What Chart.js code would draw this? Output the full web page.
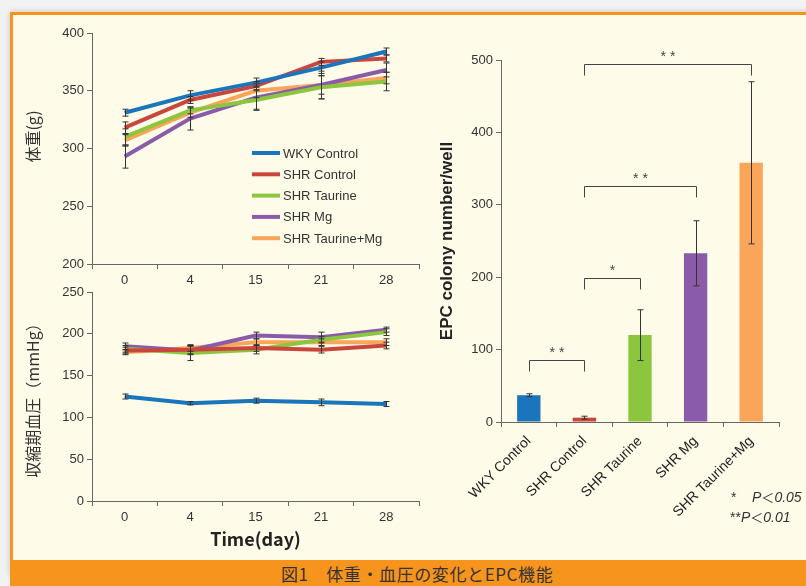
<!DOCTYPE html>
<html lang="ja">
<head>
<meta charset="utf-8">
<script src="https://cdn.jsdelivr.net/npm/chart.js@4.4.1/dist/chart.umd.min.js"></script>
<style>
  body { margin: 0; width: 806px; height: 586px; background: #f2f2f2; overflow: hidden; position: relative; }
  #frame { position: absolute; left: 10px; top: 12px; width: 820px; height: 560px; background: #fffbe9;
           border-top: 3px solid #f7941d; border-left: 3px solid #f7941d; box-shadow: 0 0 6px rgba(0,0,0,0.2); }
  #caption { position: absolute; left: 10px; top: 560px; width: 800px; height: 26px; background: #f7941d; }
  #caption span { position: absolute; left: 271px; top: 1px; font: 17px "Noto Sans CJK JP", sans-serif;
                  letter-spacing: 0.6px; color: #333; }
  canvas { position: absolute; }
  #weightChart { left: 0; top: 0; }
  #bpChart { left: 0; top: 272px; }
  #epcChart { left: 420px; top: 30px; }
  .pnote { position: absolute; font: 14px "Liberation Sans", Arial, sans-serif; color: #333; }
  .pnote i { font-style: italic; }
  .pnote b { font-weight: normal; font-family: "Noto Sans CJK JP", sans-serif; font-size: 13px; }
</style>
</head>
<body>
<div id="frame"></div>
<canvas id="weightChart" width="430" height="290"></canvas>
<canvas id="bpChart" width="430" height="288"></canvas>
<canvas id="epcChart" width="386" height="530"></canvas>
<div class="pnote" style="left:731px; top:487px;">*&nbsp;&nbsp;&nbsp;&nbsp;<i>P</i><b>＜</b><i>0.05</i></div>
<div class="pnote" style="left:730px; top:507px;">**<i>P</i><b>＜</b><i>0.01</i></div>
<div id="caption"><span>図1　体重・血圧の変化とEPC機能</span></div>
<script>
// --- data ---
const days = ['0', '4', '15', '21', '28'];
const groups = ['WKY Control', 'SHR Control', 'SHR Taurine', 'SHR Mg', 'SHR Taurine+Mg'];
const groupColors = ['#1b75bb', '#c9463d', '#8cc63f', '#8a5ba8', '#f9a55a'];

// body weight (g)
const weightWKY = [331, 346, 357, 370, 384];
const weightCtl = [318, 342, 354, 375, 378];
const weightTau = [310, 333, 342, 353, 358];
const weightMg = [293, 326, 344, 355, 368];
const weightTM = [307, 331, 350, 355, 361];
const weightErrWKY = [3, 4, 4, 5, 3];
const weightErrCtl = [5, 3, 4, 3, 3];
const weightErrTau = [7, 3, 9, 10, 8];
const weightErrMg = [10, 10, 10, 12, 6];
const weightErrTM = [5, 4, 6, 8, 5];

// systolic blood pressure (mmHg)
const bpWKY = [125, 117, 120, 118, 116];
const bpCtl = [180, 181, 183, 181, 186];
const bpTau = [182, 177, 181, 193, 202];
const bpMg = [185, 180, 198, 196, 205];
const bpTM = [178, 183, 190, 190, 190];
const bpErrWKY = [3, 2, 3, 4, 3];
const bpErrCtl = [4, 5, 4, 4, 4];
const bpErrTau = [4, 9, 5, 4, 4];
const bpErrMg = [4, 5, 4, 6, 3];
const bpErrTM = [3, 4, 4, 4, 4];

// EPC colony number/well
const epcValues = [37, 6, 120, 233, 358];
const epcErr = [2, 2, 35, 45, 112];

// significance brackets
const sigFrom = [0, 1, 1, 1];
const sigTo = [1, 2, 3, 4];
const sigY = [85, 199, 326, 495];
const sigLabel = ['* *', '*', '* *', '* *'];

Chart.defaults.font.family = '"Liberation Sans", Arial, sans-serif';
Chart.defaults.color = '#333';
Chart.defaults.animation = false;

const axisColor = '#666';

// --- plugins ---
const errorBars = {
    id: 'errorBars',
    afterDatasetsDraw(chart) {
        const ctx = chart.ctx;
        const y = chart.scales.y;
        ctx.save();
        ctx.strokeStyle = '#333';
        ctx.lineWidth = 1;
        chart.data.datasets.forEach((ds, i) => {
            if (!ds.errorBars) return;
            const meta = chart.getDatasetMeta(i);
            meta.data.forEach((el, j) => {
                const v = ds.data[j], e = ds.errorBars[j];
                const x = Math.round(el.x) + 0.5;
                const top = y.getPixelForValue(v + e), bot = y.getPixelForValue(v - e);
                ctx.beginPath();
                ctx.moveTo(x, top); ctx.lineTo(x, bot);
                ctx.moveTo(x - 3, top); ctx.lineTo(x + 3, top);
                ctx.moveTo(x - 3, bot); ctx.lineTo(x + 3, bot);
                ctx.stroke();
            });
        });
        ctx.restore();
    }
};

const boxLegend = {
    id: 'boxLegend',
    afterDraw(chart) {
        const ctx = chart.ctx;
        ctx.save();
        ctx.font = '13px "Liberation Sans", Arial, sans-serif';
        ctx.textBaseline = 'middle';
        chart.data.datasets.forEach((ds, i) => {
            const yy = 153 + i * 21.3;
            ctx.strokeStyle = ds.borderColor;
            ctx.lineWidth = 4;
            ctx.beginPath();
            ctx.moveTo(252, yy); ctx.lineTo(280, yy);
            ctx.stroke();
            ctx.fillStyle = '#333';
            ctx.fillText(ds.label, 283, yy + 1);
        });
        ctx.restore();
    }
};

const brackets = {
    id: 'brackets',
    afterDraw(chart) {
        const ctx = chart.ctx;
        const x = chart.scales.x, y = chart.scales.y;
        ctx.save();
        ctx.strokeStyle = '#444';
        ctx.lineWidth = 1;
        ctx.fillStyle = '#444';
        ctx.font = '14px "Liberation Sans", Arial, sans-serif';
        ctx.textAlign = 'center';
        ctx.textBaseline = 'middle';
        sigFrom.forEach((f, k) => {
            const x1 = Math.round(x.getPixelForValue(f)) + 0.5;
            const x2 = Math.round(x.getPixelForValue(sigTo[k])) + 0.5;
            const yt = Math.round(y.getPixelForValue(sigY[k])) + 0.5;
            ctx.beginPath();
            ctx.moveTo(x1, yt + 11); ctx.lineTo(x1, yt); ctx.lineTo(x2, yt); ctx.lineTo(x2, yt + 11);
            ctx.stroke();
            ctx.fillText(sigLabel[k], (x1 + x2) / 2, yt - 7);
        });
        ctx.restore();
    }
};

// --- line charts ---
function lineSets(values, errs) {
    return values.map((vals, i) => ({
        label: groups[i],
        data: vals,
        errorBars: errs[i],
        borderColor: groupColors[i],
        backgroundColor: groupColors[i],
        borderWidth: 4,
        pointRadius: 0,
        tension: 0
    }));
}

function lineOptions(yMin, yMax, step, yTitle, xTitle, padTop, xHeight) {
    return {
        responsive: false,
        layout: { padding: { top: padTop, right: 11, left: 0, bottom: 0 } },
        plugins: { legend: { display: false }, tooltip: { enabled: false } },
        scales: {
            x: {
                type: 'category',
                offset: true,
                grid: { offset: true, drawOnChartArea: false, tickLength: 5, color: axisColor },
                border: { color: axisColor },
                ticks: { font: { size: 13 }, color: '#333', padding: 4 },
                title: {
                    display: !!xTitle, text: xTitle || '',
                    font: { size: 18, weight: 'bold', family: '"Noto Sans CJK JP", sans-serif' },
                    color: '#222', padding: { top: 0, bottom: 10 }
                },
                afterFit: s => { s.height = xHeight; }
            },
            y: {
                min: yMin, max: yMax,
                grid: { drawOnChartArea: false, tickLength: 5, color: axisColor },
                border: { color: axisColor },
                ticks: { stepSize: step, font: { size: 13 }, color: '#333', padding: 3 },
                title: {
                    display: true, text: yTitle,
                    font: { size: 16, family: '"Noto Sans CJK JP", sans-serif' },
                    color: '#333', padding: { top: 23, bottom: 0 }
                },
                afterFit: s => { s.width = 92; }
            }
        }
    };
}

new Chart(document.getElementById('weightChart'), {
    type: 'line',
    data: {
        labels: days,
        datasets: lineSets([weightWKY, weightCtl, weightTau, weightMg, weightTM],
            [weightErrWKY, weightErrCtl, weightErrTau, weightErrMg, weightErrTM])
    },
    // leading space shifts the rotated title upward, as in the original
    options: lineOptions(200, 400, 50, '\u3000\u2002体重(g)', null, 33, 26),
    plugins: [errorBars, boxLegend]
});

new Chart(document.getElementById('bpChart'), {
    type: 'line',
    data: {
        labels: days,
        datasets: lineSets([bpWKY, bpCtl, bpTau, bpMg, bpTM],
            [bpErrWKY, bpErrCtl, bpErrTau, bpErrMg, bpErrTM])
    },
    options: lineOptions(0, 250, 50, '収縮期血圧（mmHg）', 'Time(day)', 20, 59),
    plugins: [errorBars]
});

// --- EPC bar chart ---
new Chart(document.getElementById('epcChart'), {
    type: 'bar',
    data: {
        labels: groups,
        datasets: [{
            data: epcValues,
            errorBars: epcErr,
            backgroundColor: groupColors,
            barPercentage: 0.42,
            categoryPercentage: 1
        }]
    },
    options: {
        responsive: false,
        layout: { padding: { top: 30, right: 27, left: 0, bottom: 0 } },
        plugins: { legend: { display: false }, tooltip: { enabled: false } },
        scales: {
            x: {
                grid: { offset: true, drawOnChartArea: false, tickLength: 5, color: axisColor },
                border: { color: axisColor },
                ticks: { font: { size: 14 }, color: '#222', minRotation: 45, maxRotation: 45, padding: 6 },
                afterFit: s => { s.height = 138; }
            },
            y: {
                min: 0, max: 500,
                grid: { drawOnChartArea: false, tickLength: 5, color: axisColor },
                border: { color: axisColor },
                ticks: { stepSize: 100, font: { size: 13 }, color: '#333', padding: 3 },
                title: {
                    display: true, text: 'EPC colony number/well',
                    font: { size: 17, weight: 'bold' },
                    color: '#222', padding: { top: 17, bottom: 0 }
                },
                afterFit: s => { s.width = 81; }
            }
        }
    },
    plugins: [errorBars, brackets]
});
</script>
</body>
</html>
